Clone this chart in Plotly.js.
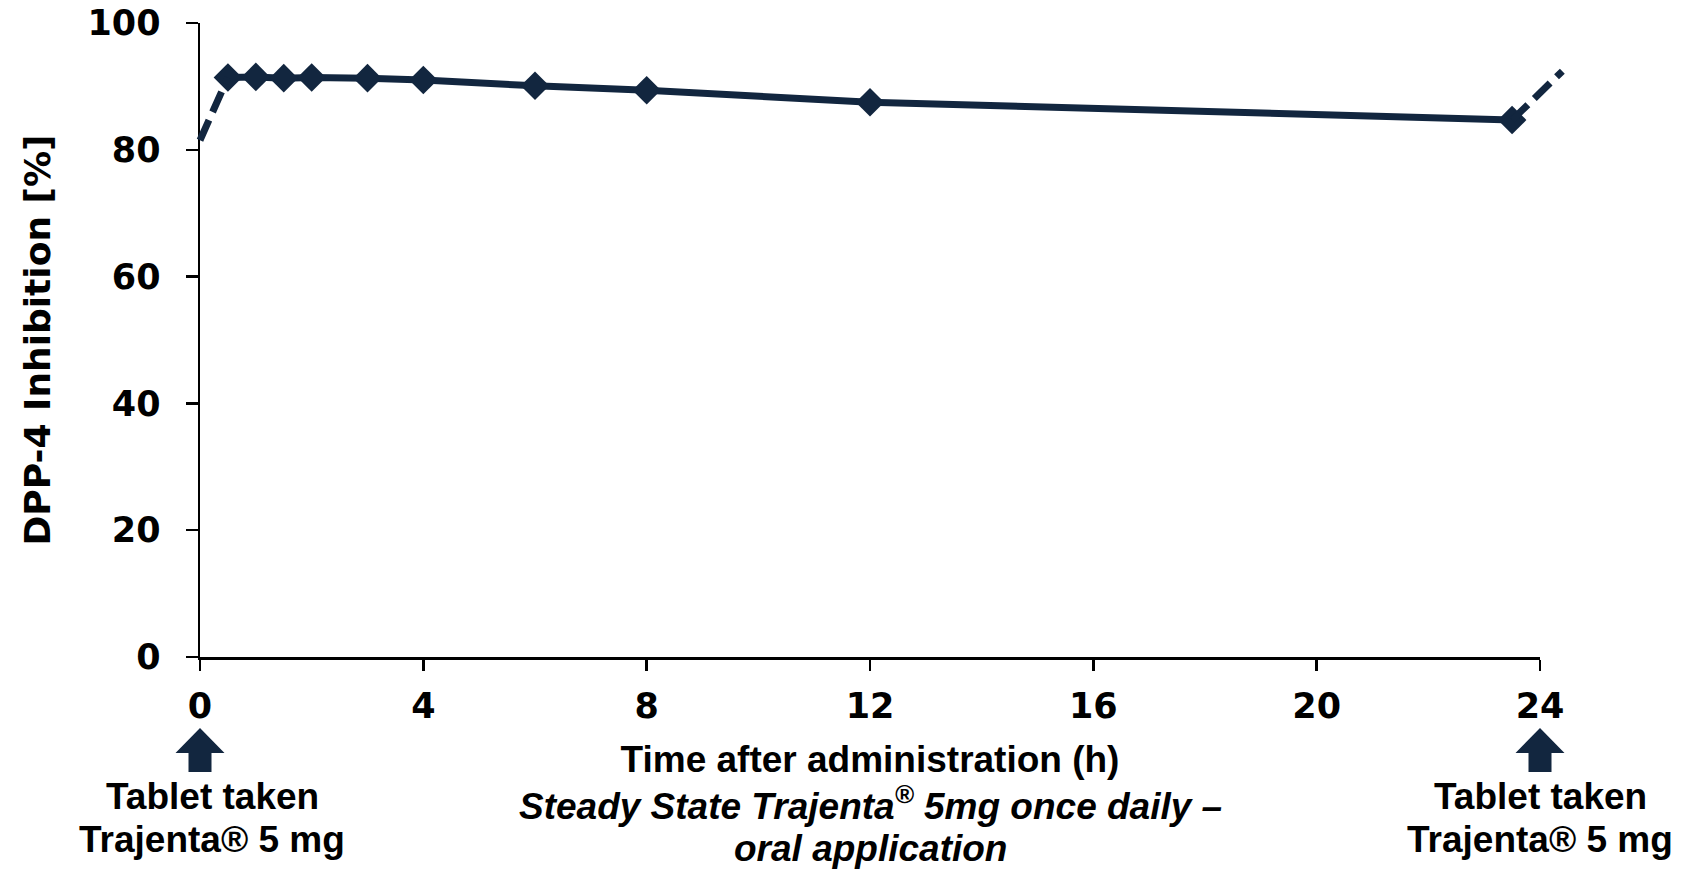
<!DOCTYPE html>
<html>
<head>
<meta charset="utf-8">
<script src="https://cdn.plot.ly/plotly-3.0.1.min.js"></script>
<style>
html, body { margin: 0; padding: 0; background: #ffffff; }
#chart { width: 1684px; height: 869px; }
</style>
</head>
<body>
<div id="chart"></div>
<script>
// ---- data ----
const hours = [0.5, 1, 1.5, 2, 3, 4, 6, 8, 12, 23.5];
const inhibition = [91.4, 91.5, 91.3, 91.4, 91.3, 91.0, 90.1, 89.4, 87.5, 84.7];
const leadInHours = [0, 0.5];
const leadInValues = [81.5, 91.4];
const nextDoseHours = [23.5, 24.4];
const nextDoseValues = [84.7, 92.4];
const xTicks = [0, 4, 8, 12, 16, 20, 24];
const yTicks = [0, 20, 40, 60, 80, 100];
const doseTimes = [0, 24];
const doseLabelLine1 = 'Tablet taken';
const doseLabelLine2 = 'Trajenta® 5 mg';
const xTitle = 'Time after administration (h)';
const xSubtitle1 = 'Steady State Trajenta<sup>®</sup> 5mg once daily –';
const xSubtitle2 = 'oral application';
const yTitle = 'DPP-4 Inhibition [%]';

// ---- styling / layout ----
const navy = '#12263f';
const W = 1684, H = 869;
const margin = { l: 160, r: 100, t: 23, b: 212 };
const plotW = W - margin.l - margin.r;
// main axis spans from pixel 200 to 1540
const dom0 = (200 - margin.l) / plotW;
const dom1 = (1540 - margin.l) / plotW;
const xRange = [0, 24];
const span = xRange[1] - xRange[0];
const unitsPerDom = span / (dom1 - dom0);
const x2Range = [xRange[0] - dom0 * unitsPerDom, xRange[1] + (1 - dom1) * unitsPerDom];
function toPaperX(t) { return dom0 + (t - xRange[0]) / span * (dom1 - dom0); }

const tickFont = { family: 'DejaVu Sans', size: 35, color: '#000000', weight: 'bold' };
const yTitleFont = { family: 'DejaVu Sans', size: 36, color: '#000000', weight: 'bold' };
const labelFont = { family: 'Liberation Sans, Arial, sans-serif', size: 37, color: '#000000', weight: 'bold' };

const traces = [
  {
    x: leadInHours, y: leadInValues, xaxis: 'x2', yaxis: 'y',
    mode: 'lines', line: { color: navy, width: 7, dash: '22px,9px' },
    hoverinfo: 'skip', showlegend: false
  },
  {
    x: nextDoseHours, y: nextDoseValues, xaxis: 'x2', yaxis: 'y',
    mode: 'lines', line: { color: navy, width: 7, dash: '22px,9px' },
    hoverinfo: 'skip', showlegend: false
  },
  {
    x: hours, y: inhibition, xaxis: 'x', yaxis: 'y',
    mode: 'lines+markers',
    line: { color: navy, width: 7 },
    marker: { symbol: 'diamond', size: 22, color: navy },
    showlegend: false
  }
];

const shapes = doseTimes.map(t => ({
  type: 'path', xref: 'paper', yref: 'paper',
  xsizemode: 'pixel', ysizemode: 'pixel',
  xanchor: toPaperX(t), yanchor: 0,
  path: 'M -24.5,-96 L 0,-71 L 24.5,-96 L 11.5,-96 L 11.5,-115 L -11.5,-115 L -11.5,-96 Z',
  fillcolor: navy, line: { width: 0 }
}));

const annotations = [];
doseTimes.forEach((t, i) => {
  const xs = i === 0 ? 12 : 0;
  annotations.push({ x: t, xref: 'x', y: 0, yref: 'paper', yanchor: 'middle', yshift: -139,
    xshift: xs, text: '<b>' + doseLabelLine1 + '</b>', showarrow: false, font: labelFont });
  annotations.push({ x: t, xref: 'x', y: 0, yref: 'paper', yanchor: 'middle', yshift: -182,
    xshift: xs, text: '<b>' + doseLabelLine2 + '</b>', showarrow: false, font: labelFont });
});
annotations.push({ x: 12, xref: 'x', y: 0, yref: 'paper', yanchor: 'middle', yshift: -146,
  text: '<b><i>' + xSubtitle1 + '</i></b>', showarrow: false, font: labelFont });
annotations.push({ x: 12, xref: 'x', y: 0, yref: 'paper', yanchor: 'middle', yshift: -191,
  text: '<b><i>' + xSubtitle2 + '</i></b>', showarrow: false, font: labelFont });

const layout = {
  width: W, height: H,
  margin: margin,
  paper_bgcolor: '#ffffff', plot_bgcolor: 'rgba(0,0,0,0)',
  showlegend: false,
  xaxis: {
    domain: [dom0, dom1], range: xRange, anchor: 'y',
    showgrid: false, zeroline: false,
    showline: true, linecolor: '#000000', linewidth: 2.5,
    ticks: 'outside', ticklen: 11, tickwidth: 2.5, tickcolor: '#000000',
    tickmode: 'array', tickvals: xTicks, ticktext: xTicks.map(String),
    tickfont: tickFont, ticklabelstandoff: 5,
    title: { text: '<b>' + xTitle + '</b>', font: labelFont, standoff: 22 }
  },
  xaxis2: {
    domain: [0, 1], range: x2Range, anchor: 'y', visible: false,
    showgrid: false, zeroline: false
  },
  yaxis: {
    domain: [0, 1], range: [0, 100], anchor: 'x',
    showgrid: false, zeroline: false,
    showline: true, linecolor: '#000000', linewidth: 2.5,
    ticks: 'outside', ticklen: 12, tickwidth: 2.5, tickcolor: '#000000',
    tickmode: 'array', tickvals: yTicks, ticktext: yTicks.map(String),
    tickfont: tickFont, ticklabelstandoff: 18,
    title: { text: yTitle, font: yTitleFont, standoff: 26 }
  },
  shapes: shapes,
  annotations: annotations
};

Plotly.newPlot('chart', traces, layout, { displayModeBar: false, staticPlot: true });
</script>
</body>
</html>
